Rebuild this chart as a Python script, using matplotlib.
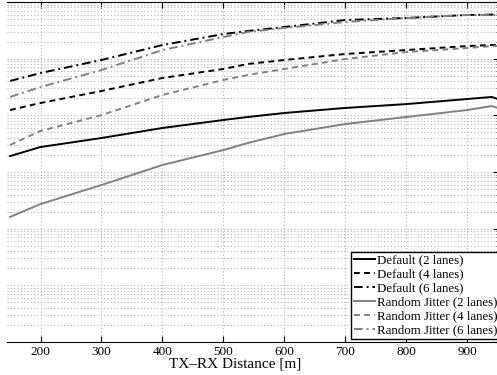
import matplotlib
matplotlib.use("Agg")
import matplotlib.pyplot as plt
from matplotlib.ticker import LogLocator, NullFormatter

plt.rcParams['font.family'] = ['Liberation Serif', 'DejaVu Serif']

# distance [m]
dist = [150, 200, 300, 400, 500, 540, 600, 700, 800, 900, 940, 950]

default_2 = [1.91e-3, 2.76e-3, 3.98e-3, 5.98e-3, 8.28e-3, 9.35e-3, 1.10e-2, 1.35e-2, 1.58e-2, 1.94e-2, 2.11e-2, 1.94e-2]
default_4 = [1.24e-2, 1.65e-2, 2.69e-2, 4.56e-2, 6.58e-2, 8.05e-2, 9.48e-2, 1.21e-1, 1.42e-1, 1.67e-1, 1.74e-1, 1.74e-1]
default_6 = [4.04e-2, 5.58e-2, 9.48e-2, 1.74e-1, 2.72e-1, 3.08e-1, 3.62e-1, 4.81e-1, 5.22e-1, 5.90e-1, 6.00e-1, 6.14e-1]
jitter_2 = [1.61e-4, 2.72e-4, 5.90e-4, 1.33e-3, 2.44e-3, 3.25e-3, 4.69e-3, 7.03e-3, 9.35e-3, 1.24e-2, 1.46e-2, 1.35e-2]
jitter_4 = [3.0e-3, 5.3e-3, 1.01e-2, 2.29e-2, 4.21e-2, 5.15e-2, 6.58e-2, 9.86e-2, 1.31e-1, 1.54e-1, 1.67e-1, 1.67e-1]
jitter_6 = [2.11e-2, 3.16e-2, 6.31e-2, 1.42e-1, 2.41e-1, 2.96e-1, 3.48e-1, 4.44e-1, 5.22e-1, 5.90e-1, 5.90e-1, 5.90e-1]

labels = ['Default (2 lanes)', 'Default (4 lanes)', 'Default (6 lanes)',
          'Random Jitter (2 lanes)', 'Random Jitter (4 lanes)', 'Random Jitter (6 lanes)']
xticks = [200, 300, 400, 500, 600, 700, 800, 900]

fig = plt.figure(figsize=(4.97, 3.75), dpi=100)
ax = fig.add_axes([7 / 497, 33 / 375, 492 / 497, 340 / 375])

gray = (0.5, 0.5, 0.5)
dash = (0, (3, 2.2))
dashdot = (0, (4.5, 2, 1, 2))
ax.plot(dist, default_2, color='k', lw=1.4, ls='-', label=labels[0])
ax.plot(dist, default_4, color='k', lw=1.4, ls=dash, label=labels[1])
ax.plot(dist, default_6, color='k', lw=1.4, ls=dashdot, label=labels[2])
ax.plot(dist, jitter_2, color=gray, lw=1.4, ls='-', label=labels[3])
ax.plot(dist, jitter_4, color=gray, lw=1.4, ls=dash, label=labels[4])
ax.plot(dist, jitter_6, color=gray, lw=1.4, ls=dashdot, label=labels[5])

ax.set_yscale('log')
ax.set_ylim(1e-6, 1e0)
ax.set_xlim(145, 952)
ax.set_xticks(xticks)
ax.set_xticklabels([str(t) for t in xticks], fontsize=9.5)
ax.yaxis.set_major_locator(LogLocator(base=10, numticks=10))
ax.yaxis.set_minor_locator(LogLocator(base=10, subs=range(2, 10), numticks=20))
ax.yaxis.set_minor_formatter(NullFormatter())

# dotted grid, major and minor
ax.grid(True, which='major', axis='both', color='#b4b4b4', ls=(0, (1, 2)), lw=0.8)
ax.grid(True, which='minor', axis='y', color='#b4b4b4', ls=(0, (1, 2)), lw=0.8)

ax.spines['left'].set_visible(False)
ax.tick_params(axis='both', which='both', direction='in')
ax.tick_params(axis='x', top=True, length=4, pad=3)
ax.tick_params(axis='y', which='major', left=False, right=True, labelleft=False, length=4)
ax.tick_params(axis='y', which='minor', left=False, right=True, length=2)

ax.set_xlabel('TX\u2013RX Distance [m]', fontsize=11, labelpad=0)
ax.xaxis.set_label_coords((235 - 7) / 492, -0.045)

leg = ax.legend(loc='lower right', bbox_to_anchor=(1.006, 36 / 375), bbox_transform=fig.transFigure,
                fontsize=9.3, frameon=True, fancybox=False, edgecolor='k', framealpha=1,
                borderpad=0.2, labelspacing=0.15, handlelength=1.7, handletextpad=0.1,
                borderaxespad=0)
leg.get_frame().set_linewidth(1.0)

fig.savefig('out.png', dpi=100)
